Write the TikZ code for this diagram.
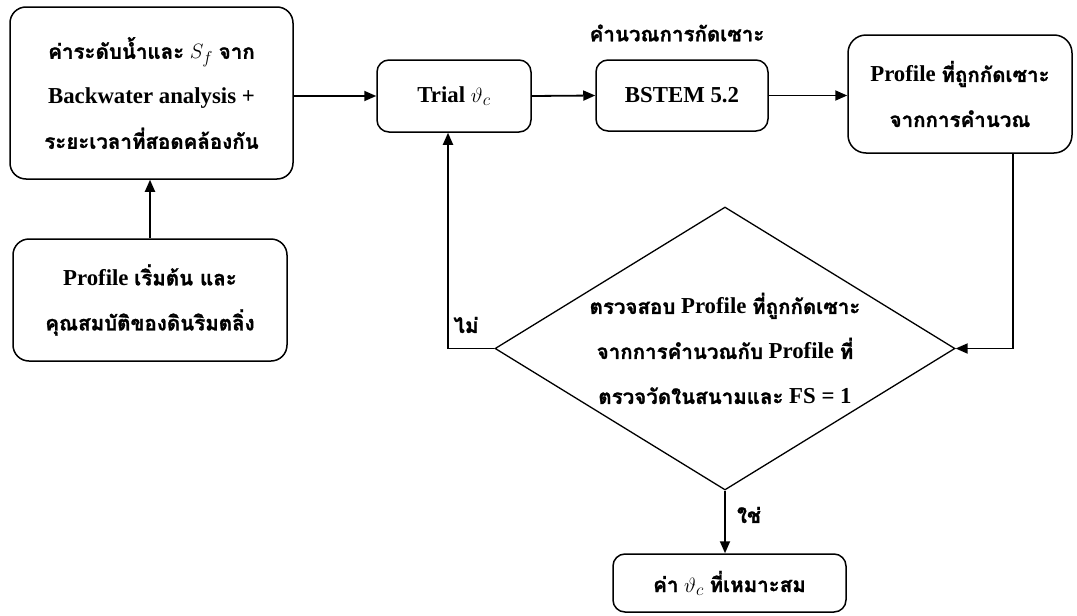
\documentclass[tikz,border=0pt]{standalone}
\usepackage{fontspec}
\setmainfont{Liberation Serif}
\newfontfamily\thaifont[Script=Thai,Scale=0.9,BoldFeatures={FakeBold=1.2}]{Loma}
\usetikzlibrary{shapes.geometric,arrows.meta,calc}
\newcommand\thtx[1]{{\thaifont #1}}
\begin{document}
\begin{tikzpicture}[x=1pt,y=-1pt,
  txt/.style={font=\fontsize{22.8}{45}\selectfont\bfseries, align=center},
  rbox/.style={txt, draw, line width=1.5pt, rounded corners=16pt, inner sep=0pt},
  arr/.style={line width=1.8pt, -{Triangle[length=12pt,width=10pt]}}]
\useasboundingbox (0,0) rectangle (1077,616);
\fill[white] (0,0) rectangle (1077,616);
\node[rbox, minimum width=283pt, minimum height=172pt] (A) at (151.5,93)
  {\thtx{ค่าระดับน้ำและ} $S_f$ \thtx{จาก}\\ Backwater analysis +\\ \thtx{ระยะเวลาที่สอดคล้องกัน}};
\node[rbox, minimum width=274pt, minimum height=122pt] (B) at (150,300)
  {Profile \thtx{เริ่มต้น และ}\\ \thtx{คุณสมบัติของดินริมตลิ่ง}};
\node[rbox, rounded corners=12pt, minimum width=154pt, minimum height=72pt] (T) at (454,96)
  {Trial $\vartheta_c$};
\node[rbox, rounded corners=12pt, minimum width=172pt, minimum height=71pt] (S) at (682,95.5)
  {BSTEM 5.2};
\node[txt] (SL) at (677,33) {\thtx{คำนวณการกัดเซาะ}};
\node[rbox, rounded corners=18pt, minimum width=224pt, minimum height=118pt] (P) at (960,94)
  {Profile \thtx{ที่ถูกกัดเซาะ}\\ \thtx{จากการคำนวณ}};
\node[diamond, draw, line width=1.3pt, minimum width=460pt, minimum height=283pt, inner sep=0pt] (D) at (725,348.5) {};
\node[txt] (DT) at (D.center)
  {\thtx{ตรวจสอบ} Profile \thtx{ที่ถูกกัดเซาะ}\\ \thtx{จากการคำนวณกับ} Profile \thtx{ที่}\\ \thtx{ตรวจวัดในสนามและ} FS = 1};
\node[rbox, rounded corners=12pt, minimum width=233pt, minimum height=58pt] (R) at (729.5,583)
  {\thtx{ค่า} $\vartheta_c$ \thtx{ที่เหมาะสม}};
\draw[arr] (A.east |- T.west) -- (T.west);
\draw[arr] (B.north) -- (B.north |- A.south);
\draw[arr] (T.east) -- (S.west);
\draw[arr] (S.east) -- (S.east -| P.west);
\draw[arr] ([xshift=53pt]P.south) |- (D.east);
\draw[arr] (D.west) -| ([xshift=-6pt]T.south);
\draw[arr] (D.south) -- (D.south |- R.north);
\node[txt] (NO) at (466,325) {\thtx{ไม่}};
\node[txt] (YES) at (749,515) {\thtx{ใช่}};
\end{tikzpicture}
\end{document}
